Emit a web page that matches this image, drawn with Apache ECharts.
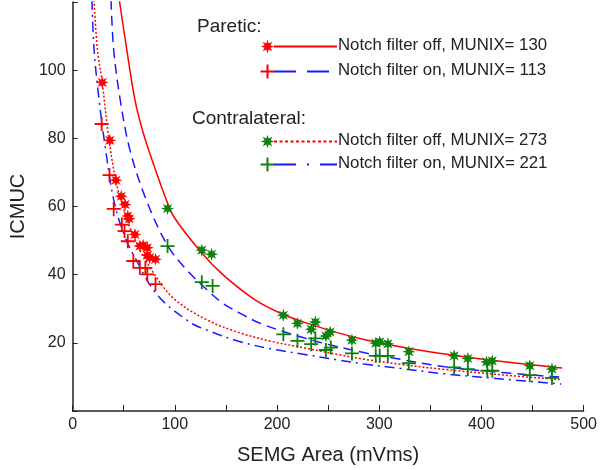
<!DOCTYPE html>
<html lang="en">
<head>
    <meta charset="UTF-8">
    <title>ICMUC vs SEMG Area</title>
    <script src="https://cdn.jsdelivr.net/npm/echarts@6/dist/echarts.min.js"></script>
    <style>
        html, body { margin: 0; padding: 0; background: #fff; }
        #container { width: 600px; height: 470px; }
    </style>
</head>
<body>
<div id="container"></div>
<script>
    // measured points [SEMG area, ICMUC]
    const pareticOffPts = [[29,96.4],[36.4,79.4],[42.4,67.7],[47.6,63],[51.4,60.6],[54,57.2],[55.3,56.4],[61,51.8],
        [65.8,48.4],[69,48.6],[73.1,47.9],[73.1,45.7],[75.4,45],[81.1,44.5]];
    const pareticOnPts = [[28.4,84.2],[36.1,69.2],[40.2,59.3],[48.2,54.7],[50.8,52.8],[54,49.8],[59.4,44],
        [65.8,42],[71.2,42],[73.1,40.1],[81.1,37.2]];
    const contraOffPts = [[92.9,59.4],[126.4,47.2],[136,46],[206.2,28.1],[220,25.7],[237.5,26.1],[233.4,24],
        [252,23.2],[247.8,22],[273.3,20.8],[296.6,19.9],[300.5,20.3],[308.4,19.7],[329,17.4],[373.3,16.2],
        [386.7,15.4],[405,14.4],[410.6,14.7],[447.3,13.3],[469,12.3]];
    const contraOnPts = [[92.9,48.4],[126.4,37.8],[137,36.7],[206.2,22.5],[220,20.6],[233.4,19.6],[237.5,21.3],
        [247.8,17.9],[252.6,18.6],[273.3,16.9],[296.6,16.2],[300.5,16.2],[308.4,16.2],[329,14],[373.3,12.8],
        [386.7,12.3],[405.8,11.8],[410.6,11.8],[447.3,10.5],[469,9.7]];

    // fitted curves
    const pareticOffFit = [[45.7,120.6],[53,106],[61,91.3],[69,81.7],[80,71.7],[91,62.5],[99,57],[126,46.5],
        [147,40],[179,32.5],[206,28.3],[227,26],[259,23],[285,21],[323,18.7],[349,17.4],[412,14.8],[479,12.6]];
    const pareticOnFit = [[37.6,120.6],[40.2,106],[46.6,91.3],[56,76.7],[72,62],[93,48.5],[112,41.3],[131,35.7],
        [147,31.6],[165,28.5],[183,25.8],[206,23.3],[227,21.4],[249,19.6],[287,17],[316,15.4],[364,13],
        [412,11.5],[478,9.9]];
    const contraOffFit = [[21,120.6],[24.3,106],[29,96.4],[35.4,80],[42,68],[48,61],[60,51],[77,41.5],[99,33],
        [131,26.8],[163,23],[195,20.4],[227,18.5],[259,16.6],[285,15.2],[323,13.6],[364,12.2],[420,10.6],[478,9.2]];
    const contraOnFit = [[18.9,120.6],[21,106],[25.9,91.3],[32.3,76.7],[40.2,62],[50,52],[61,45],[83,34],
        [115,26],[131,23.8],[163,20.4],[195,18.2],[227,16.6],[259,15],[285,13.8],[323,12.4],[364,10.9],
        [420,9.4],[478,7.9]];

    const legendNames = ['Notch filter off, MUNIX= 130', 'Notch filter on, MUNIX= 113',
        'Notch filter off, MUNIX= 273', 'Notch filter on, MUNIX= 221'];
    const groupTitles = ['Paretic:', 'Contralateral:'];

    const RED = '#ff0000', BLUE = '#1a1aff', GREEN = '#0b820b', TXT = '#222';
    const FONT = '"Liberation Sans", Arial, sans-serif';

    // 8-arm star outline (unit radius 10)
    const starPts = [[0,-10],[1.8,-4.3],[7.07,-7.07],[4.3,-1.8],[10,0],[4.3,1.8],[7.07,7.07],[1.8,4.3],[0,10],
        [-1.8,4.3],[-7.07,7.07],[-4.3,1.8],[-10,0],[-4.3,-1.8],[-7.07,-7.07],[-1.8,-4.3]];
    const starPath = 'path://M' + starPts.map(p => p.join(',')).join(' L') + ' Z';
    const plusPath = 'path://M-1.3,-10 L1.3,-10 L1.3,-1.3 L10,-1.3 L10,1.3 L1.3,1.3 L1.3,10 L-1.3,10 L-1.3,1.3 L-10,1.3 L-10,-1.3 L-1.3,-1.3 Z';

    function fitLine(data, color, type) {
        return {
            type: 'line', data: data, smooth: 0.35, showSymbol: false, silent: true, z: 2,
            lineStyle: { color: color, width: 1.5, type: type }
        };
    }
    function pts(data, symbol, color, size) {
        return {
            type: 'scatter', data: data, symbol: symbol, symbolSize: size, z: 3, silent: true,
            itemStyle: { color: color, opacity: 1 }
        };
    }

    // hand-made legend (marker + line sample in one row, as in the figure)
    const legendRows = [
        { y: 46.5, mark: 'star', mc: RED, lc: RED, dash: null },
        { y: 71.5, mark: 'plus', mc: RED, lc: BLUE, dash: [22, 11] },
        { y: 141.5, mark: 'star', mc: GREEN, lc: RED, dash: [3, 2.5] },
        { y: 164.5, mark: 'plus', mc: GREEN, lc: BLUE, dash: [22, 11, 2, 11] }
    ];
    const graphic = [
        { type: 'text', x: 197, y: 17, style: { text: groupTitles[0], font: '19px ' + FONT, fill: TXT } },
        { type: 'text', x: 192, y: 109, style: { text: groupTitles[1], font: '19px ' + FONT, fill: TXT } }
    ];
    legendRows.forEach((r, i) => {
        const cx = 267.5, s = 0.68;
        graphic.push({
            type: 'line', shape: { x1: 274, y1: r.y, x2: 337, y2: r.y },
            style: { stroke: r.lc, lineWidth: 2, lineDash: r.dash }
        });
        if (r.mark === 'star') {
            graphic.push({
                type: 'polygon', shape: { points: starPts.map(p => [cx + p[0] * s, r.y + p[1] * s]) },
                style: { fill: r.mc }
            });
        } else {
            graphic.push({ type: 'line', shape: { x1: cx - 7, y1: r.y, x2: cx + 7, y2: r.y }, style: { stroke: r.mc, lineWidth: 2 } });
            graphic.push({ type: 'line', shape: { x1: cx, y1: r.y - 7, x2: cx, y2: r.y + 7 }, style: { stroke: r.mc, lineWidth: 2 } });
        }
        graphic.push({
            type: 'text', x: 338, y: r.y - 10,
            style: { text: legendNames[i], font: '16.8px ' + FONT, fill: TXT }
        });
    });

    var myChart = echarts.init(document.getElementById('container'), null, { renderer: 'canvas' });
    var option = {
        animation: false,
        backgroundColor: '#fff',
        textStyle: { fontFamily: FONT },
        grid: { left: 63, right: 15, top: 2, bottom: 58 },
        xAxis: {
            type: 'value', min: 0, max: 500, interval: 50,
            name: 'SEMG Area (mVms)', nameLocation: 'middle', nameGap: 34,
            nameTextStyle: { fontSize: 20, color: TXT },
            axisLine: { lineStyle: { color: TXT, width: 1.5 } },
            axisTick: { inside: true, length: 6, lineStyle: { color: TXT } },
            axisLabel: { fontSize: 16, color: TXT, margin: 6, formatter: v => (v % 100 === 0 ? String(v) : '') },
            splitLine: { show: false }
        },
        yAxis: {
            type: 'value', min: 0, max: 120, interval: 20,
            name: 'ICMUC', nameLocation: 'middle', nameGap: 30,
            nameTextStyle: { fontSize: 20, color: TXT },
            axisLine: { show: true, lineStyle: { color: TXT, width: 1.5 } },
            axisTick: { show: true, inside: true, length: 5, lineStyle: { color: TXT } },
            axisLabel: { fontSize: 16, color: TXT, margin: 7, formatter: v => (v > 0 && v < 120 ? String(v) : '') },
            splitLine: { show: false }
        },
        graphic: graphic,
        series: [
            fitLine(pareticOffFit, RED, 'solid'),
            fitLine(pareticOnFit, BLUE, [10, 6]),
            fitLine(contraOffFit, RED, [2, 2]),
            fitLine(contraOnFit, BLUE, [10, 5, 2, 5]),
            pts(pareticOffPts, starPath, RED, 13),
            pts(pareticOnPts, plusPath, RED, 14),
            pts(contraOffPts, starPath, GREEN, 13),
            pts(contraOnPts, plusPath, GREEN, 14)
        ]
    };
    if (option && typeof option === 'object') {
        myChart.setOption(option);
    }
    window.addEventListener('resize', myChart.resize);
</script>
</body>
</html>
